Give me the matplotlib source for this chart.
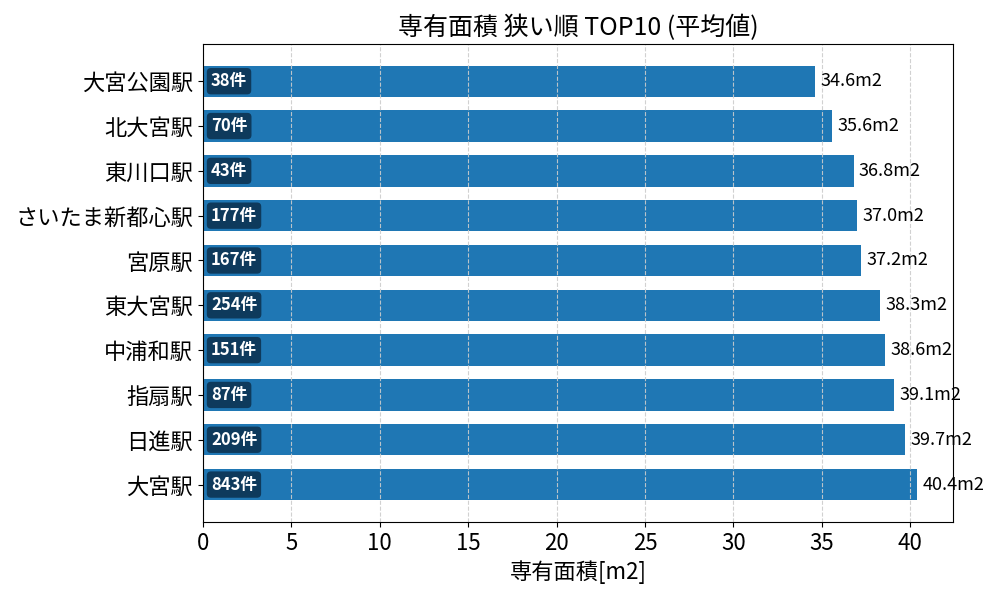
import matplotlib
matplotlib.use("Agg")
import matplotlib.pyplot as plt

plt.rcParams['font.family'] = ['Noto Sans CJK JP', 'DejaVu Sans']

stations = ["大宮公園駅", "北大宮駅", "東川口駅", "さいたま新都心駅", "宮原駅",
            "東大宮駅", "中浦和駅", "指扇駅", "日進駅", "大宮駅"]
areas = [34.6, 35.6, 36.8, 37.0, 37.2, 38.3, 38.6, 39.1, 39.7, 40.4]
counts = [38, 70, 43, 177, 167, 254, 151, 87, 209, 843]

fig, ax = plt.subplots(figsize=(10, 6), dpi=100)
fig.subplots_adjust(left=0.203, right=0.953, top=0.927, bottom=0.13)

ypos = list(range(len(stations)))[::-1]
ax.barh(ypos, areas, height=0.7, color="#1f77b4", zorder=1)
ax.set_yticks(ypos)
ax.set_yticklabels(stations, fontsize=16)
ax.tick_params(axis='x', labelsize=16)
ax.set_xlim(0, max(areas) * 1.05)
ax.set_axisbelow('line')
ax.grid(axis='x', linestyle='--', color='#cccccc', alpha=0.9)

for y, a, c in zip(ypos, areas, counts):
    ax.text(a + 0.3, y, f"{a:.1f}m2", va='center', ha='left', fontsize=13, zorder=3)
    ax.text(0.45, y, f"{c}件", va='center', ha='left', fontsize=12, color='white',
            fontweight='bold', zorder=3,
            bbox=dict(boxstyle='round,pad=0.25', facecolor='#0e3a5c', edgecolor='none'))

ax.set_title("専有面積 狭い順 TOP10 (平均値)", fontsize=18)
ax.set_xlabel("専有面積[m2]", fontsize=16)

fig.savefig("out.png", dpi=100)
